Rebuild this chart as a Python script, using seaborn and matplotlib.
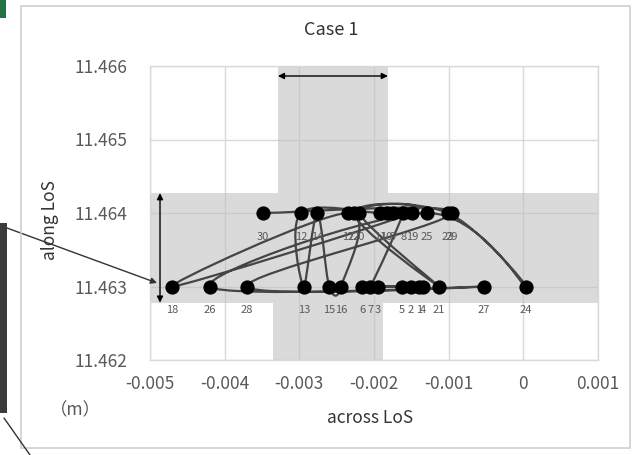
import numpy as np
import pandas as pd
import matplotlib
matplotlib.use("Agg")
import matplotlib.pyplot as plt
import seaborn as sns
from matplotlib.path import Path
from matplotlib.patches import PathPatch, Rectangle

# point number, across LoS, along LoS (m)
point_no = [1, 2, 3, 4, 5, 6, 7, 8, 9, 10,
            11, 12, 13, 14, 15, 16, 17, 18, 19, 20,
            21, 22, 23, 24, 25, 26, 27, 28, 29, 30]
across = [-0.00140, -0.00151, -0.00195, -0.00135, -0.00163, -0.00216, -0.00205, -0.00161, -0.00175, -0.00183,
          -0.00192, -0.00298, -0.00294, -0.00276, -0.00260, -0.00244, -0.00235, -0.00470, -0.00149, -0.00220,
          -0.00113, -0.00227, -0.00101, 0.00003, -0.00129, -0.00420, -0.00053, -0.00370, -0.00096, -0.00349]
along = [11.463, 11.463, 11.463, 11.463, 11.463, 11.463, 11.463, 11.464, 11.464, 11.464,
         11.464, 11.464, 11.463, 11.464, 11.463, 11.463, 11.464, 11.463, 11.464, 11.464,
         11.463, 11.464, 11.464, 11.463, 11.464, 11.463, 11.463, 11.463, 11.464, 11.464]

# shaded tolerance cross
band_along = [11.46278, 11.46427]
band_across_top = [-0.003287, -0.001814]
band_across_bottom = [-0.003353, -0.001881]

x_ticks = [-0.005, -0.004, -0.003, -0.002, -0.001, 0, 0.001]
x_tick_labels = ["-0.005", "-0.004", "-0.003", "-0.002", "-0.001", "0", "0.001"]
y_ticks = [11.462, 11.463, 11.464, 11.465, 11.466]
y_tick_labels = ["11.462", "11.463", "11.464", "11.465", "11.466"]

df = pd.DataFrame({"no": point_no, "across": across, "along": along})

sns.set_theme(style="white")
plt.rcParams['font.family'] = ['Noto Sans CJK JP', 'DejaVu Sans']

W, H = 642, 455
fig = plt.figure(figsize=(W / 100, H / 100), dpi=100)
ax = fig.add_axes([150 / W, 1 - 360 / H, 448 / W, 294 / H])

ax.set_xlim(-0.005, 0.001)
ax.set_ylim(11.462, 11.466)
ax.set_xticks(x_ticks)
ax.set_xticklabels(x_tick_labels)
ax.set_yticks(y_ticks)
ax.set_yticklabels(y_tick_labels)
ax.tick_params(axis="both", length=0, labelsize=12.5, colors="#595959")
ax.tick_params(axis="y", pad=16)
ax.tick_params(axis="x", pad=11)
ax.grid(True, color="#d9d9d9", lw=1)
ax.set_axisbelow(True)
for s in ax.spines.values():
    s.set_color("#d9d9d9")
    s.set_linewidth(1)

# gray bands
band_kw = dict(facecolor="#bdbdbd", alpha=0.55, lw=0, zorder=1)
ax.axhspan(band_along[0], band_along[1], **band_kw)
ax.add_patch(Rectangle((band_across_top[0], band_along[1]),
                       band_across_top[1] - band_across_top[0], 11.466 - band_along[1], **band_kw))
ax.add_patch(Rectangle((band_across_bottom[0], 11.462),
                       band_across_bottom[1] - band_across_bottom[0], band_along[0] - 11.462, **band_kw))

# smoothed connecting line (Excel style)
pts = df[["across", "along"]].to_numpy()
n = len(pts)
verts = [tuple(pts[0])]
codes = [Path.MOVETO]
for i in range(n - 1):
    p0 = pts[max(i - 1, 0)]
    p1 = pts[i]
    p2 = pts[i + 1]
    p3 = pts[min(i + 2, n - 1)]
    c1 = p1 + (p2 - p0) / 6
    c2 = p2 - (p3 - p1) / 6
    verts += [tuple(c1), tuple(c2), tuple(p2)]
    codes += [Path.CURVE4] * 3
ax.add_patch(PathPatch(Path(verts, codes), facecolor="none", edgecolor="#454545", lw=1.6, zorder=2))

sns.scatterplot(data=df, x="across", y="along", color="black", s=105,
                edgecolor="black", linewidth=0, ax=ax, zorder=3, legend=False)
ax.set_xlabel("")
ax.set_ylabel("")

for _, r in df.iterrows():
    ax.annotate(str(int(r["no"])), (r["across"], r["along"]), xytext=(0, -17),
                textcoords="offset points", ha="center", va="center",
                fontsize=8, color="#595959", zorder=4)

# double arrows
arrow_kw = dict(arrowstyle="<|-|>", color="black", lw=1, mutation_scale=9, shrinkA=0, shrinkB=0)
ax.annotate("", xy=(-0.004866, band_along[1]), xytext=(-0.004866, band_along[0]),
            arrowprops=arrow_kw, zorder=5)
ax.annotate("", xy=(band_across_top[1], 11.465864), xytext=(band_across_top[0], 11.465864),
            arrowprops=arrow_kw, zorder=5)

# outer annotation pointing at point 18
ax.annotate("", xy=(-0.004906, 11.463048), xytext=(7, H - 228), textcoords="figure pixels",
            arrowprops=dict(arrowstyle="-|>", color="#333333", lw=1, mutation_scale=9,
                            shrinkA=0, shrinkB=0), annotation_clip=False, zorder=5)

# texts
fig.text(331 / W, 1 - 30 / H, "Case 1", ha="center", va="center", fontsize=13, color="#333333")
fig.text(370 / W, 1 - 418 / H, "across LoS", ha="center", va="center", fontsize=12.5, color="#333333")
fig.text(50 / W, 1 - 220 / H, "along LoS", ha="center", va="center", rotation=90,
         fontsize=12.5, color="#333333")
fig.text(75 / W, 1 - 410 / H, "（m）", ha="center", va="center", fontsize=12.5, color="#595959")

# chart frame and surrounding bits
fig.add_artist(Rectangle((21 / W, 7 / H), 609 / W, 442 / H, transform=fig.transFigure,
                         facecolor="none", edgecolor="#cfcfcf", lw=1.2))
fig.add_artist(Rectangle((0, 1 - 18 / H), 6 / W, 18 / H, transform=fig.transFigure,
                         facecolor="#217346", edgecolor="none"))
fig.add_artist(Rectangle((0, 1 - 413 / H), 7 / W, 190 / H, transform=fig.transFigure,
                         facecolor="#3d3a3a", edgecolor="none"))
fig.add_artist(plt.Line2D([4 / W, 30 / W], [1 - 418 / H, 0], transform=fig.transFigure,
                          color="#333333", lw=1))

fig.savefig("out.png", dpi=100)
